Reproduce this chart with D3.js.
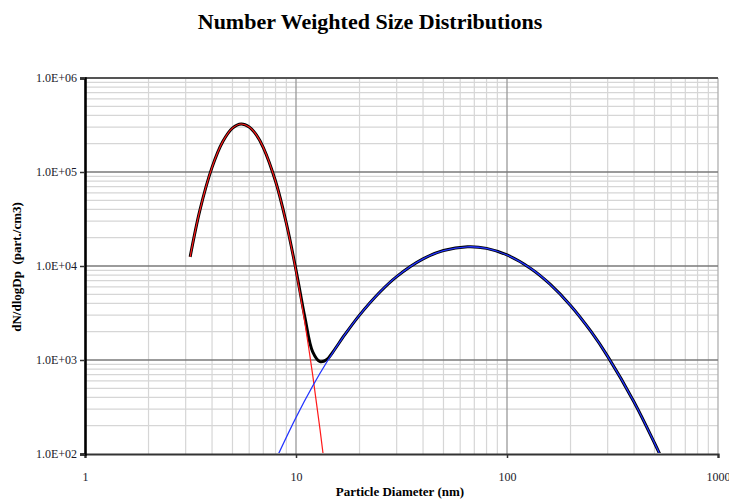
<!DOCTYPE html>
<html>
<head>
<meta charset="utf-8">
<script src="https://cdn.jsdelivr.net/npm/d3@7"></script>
<style>
  html, body { margin: 0; padding: 0; background: #ffffff; }
  svg { display: block; }
</style>
</head>
<body>
<svg id="chart" width="729" height="501"></svg>
<script>
// ---- Data ----
const chartTitle = "Number Weighted Size Distributions";
const xTitle = "Particle Diameter (nm)";
const yTitle = "dN/dlogDp  (part./cm3)";

const xTickValues = [1, 10, 100, 1000];
const xTickLabels = ["1", "10", "100", "1000"];
const yTickValues = [1e2, 1e3, 1e4, 1e5, 1e6];
const yTickLabels = ["1.0E+02", "1.0E+03", "1.0E+04", "1.0E+05", "1.0E+06"];

// Mode 1 (red, thin)
const mode1Diam = [3.15, 3.5, 4, 4.5, 5, 5.5, 6, 6.5, 7, 8, 9, 10, 11, 12, 13, 14];
const mode1Conc = [12500, 38900, 112000, 211000, 293000, 324000, 301000, 247000, 182000, 79500, 28300, 8830, 2530, 689, 182, 47];

// Mode 2 (blue, thin)
const mode2Diam = [8, 10, 12, 14, 17, 20, 25, 30, 40, 50, 65, 80, 100, 130, 160, 200, 250, 300, 400, 500, 550];
const mode2Conc = [86, 245, 529, 952, 1846, 3004, 5294, 7719, 11900, 14600, 16000, 15400, 13100, 9372, 6408, 3804, 2011, 1094, 358, 131, 83];

// Total (thick)
const totalDiam = [3.15, 3.5, 4, 4.5, 5, 5.5, 6, 6.5, 7, 8, 9, 10, 11, 12, 13, 14, 15, 17, 20, 25, 30, 40, 50, 65, 80, 100, 130, 160, 200, 250, 300, 400, 500, 550];
const totalConc = [12500, 38900, 112000, 211000, 293000, 324000, 301000, 247000, 182000, 79600, 28500, 9080, 2900, 1218, 960, 1010, 1229, 1846, 3004, 5294, 7719, 11900, 14600, 16000, 15400, 13100, 9372, 6408, 3804, 2011, 1094, 358, 131, 83];

(function () {
// ---- Layout ----
const pLeft = 85, pRight = 718, pTop = 78, pBottom = 454;
const svg = d3.select("#chart");
const serif = "'Liberation Serif', 'DejaVu Serif', serif";

const x = d3.scaleLog().domain([1, 1000]).range([pLeft, pRight]);
const y = d3.scaleLog().domain([1e2, 1e6]).range([pBottom, pTop]);

// Title
svg.append("text")
  .attr("x", 370).attr("y", 29)
  .attr("text-anchor", "middle")
  .attr("font-family", serif).attr("font-weight", "bold").attr("font-size", 22)
  .attr("fill", "#000")
  .text(chartTitle);

function minorTicks(lo, hi) {
  const out = [];
  for (let dec = lo; dec < hi; dec *= 10) {
    for (let m = 2; m <= 9; m++) out.push(dec * m);
  }
  return out;
}
const xMinor = minorTicks(1, 1000);
const yMinor = minorTicks(1e2, 1e6);

const grid = svg.append("g");
grid.selectAll(".vx").data(xMinor).join("line")
  .attr("x1", d => x(d)).attr("x2", d => x(d))
  .attr("y1", pTop).attr("y2", pBottom)
  .attr("stroke", "#d6d6d6").attr("stroke-width", 1.2);
grid.selectAll(".hy").data(yMinor).join("line")
  .attr("x1", pLeft).attr("x2", pRight)
  .attr("y1", d => y(d)).attr("y2", d => y(d))
  .attr("stroke", "#d6d6d6").attr("stroke-width", 1.2);
grid.selectAll(".vX").data([10, 100, 1000]).join("line")
  .attr("x1", d => x(d)).attr("x2", d => x(d))
  .attr("y1", pTop).attr("y2", pBottom)
  .attr("stroke", d => d === 1000 ? "#b0b0b0" : "#9a9a9a").attr("stroke-width", 1.3);
grid.selectAll(".hY").data([1e3, 1e4, 1e5]).join("line")
  .attr("x1", pLeft).attr("x2", pRight)
  .attr("y1", d => y(d)).attr("y2", d => y(d))
  .attr("stroke", "#7a7a7a").attr("stroke-width", 1.6);
grid.append("line")
  .attr("x1", pLeft).attr("x2", pRight).attr("y1", y(1e6)).attr("y2", y(1e6))
  .attr("stroke", "#555").attr("stroke-width", 2);

// Axes
const xAxis = d3.axisBottom(x).tickValues(xTickValues)
  .tickFormat((d, i) => xTickLabels[i]).tickSize(4).tickPadding(14);
const yAxis = d3.axisLeft(y).tickValues(yTickValues)
  .tickFormat((d, i) => yTickLabels[i]).tickSize(5).tickPadding(3);

const gx = svg.append("g").attr("transform", `translate(0,${pBottom})`).call(xAxis);
gx.select(".domain").attr("stroke", "#333").attr("stroke-width", 2.2);
gx.selectAll(".tick line").attr("stroke", "#333").attr("stroke-width", 1.5);
gx.selectAll("text").attr("font-family", serif).attr("font-size", 12).attr("fill", "#1a1a2a");

const gy = svg.append("g").attr("transform", `translate(${pLeft},0)`).call(yAxis);
gy.select(".domain").attr("stroke", "#000").attr("stroke-width", 2.6);
gy.selectAll(".tick line").attr("stroke", "#333").attr("stroke-width", 1.5);
gy.selectAll("text").attr("font-family", serif).attr("font-size", 12).attr("fill", "#1a1a2a");

// Axis titles
svg.append("text")
  .attr("x", 400).attr("y", 496)
  .attr("text-anchor", "middle")
  .attr("font-family", serif).attr("font-weight", "bold").attr("font-size", 13)
  .attr("fill", "#000")
  .text(xTitle);

svg.append("text")
  .attr("transform", `translate(21,267) rotate(-90)`)
  .attr("text-anchor", "middle")
  .attr("font-family", serif).attr("font-weight", "bold").attr("font-size", 13)
  .attr("fill", "#000")
  .style("white-space", "pre")
  .text(yTitle);

// Clip
svg.append("clipPath").attr("id", "plotclip")
  .append("rect").attr("x", pLeft).attr("y", pTop - 2).attr("width", pRight - pLeft).attr("height", pBottom - pTop + 1);

const line = d3.line().x(d => x(d[0])).y(d => y(d[1])).curve(d3.curveCatmullRom.alpha(0.5));
const zip = (a, b) => a.map((v, i) => [v, b[i]]);

const curves = svg.append("g").attr("clip-path", "url(#plotclip)");
curves.append("path").datum(zip(totalDiam, totalConc))
  .attr("d", line).attr("fill", "none")
  .attr("stroke", "#000").attr("stroke-width", 3).attr("stroke-linejoin", "round");
curves.append("path").datum(zip(mode1Diam, mode1Conc))
  .attr("d", line).attr("fill", "none")
  .attr("stroke", "#ff1a1a").attr("stroke-width", 1.2);
curves.append("path").datum(zip(mode2Diam, mode2Conc))
  .attr("d", line).attr("fill", "none")
  .attr("stroke", "#2233ff").attr("stroke-width", 1.3);
})();
</script>
</body>
</html>
